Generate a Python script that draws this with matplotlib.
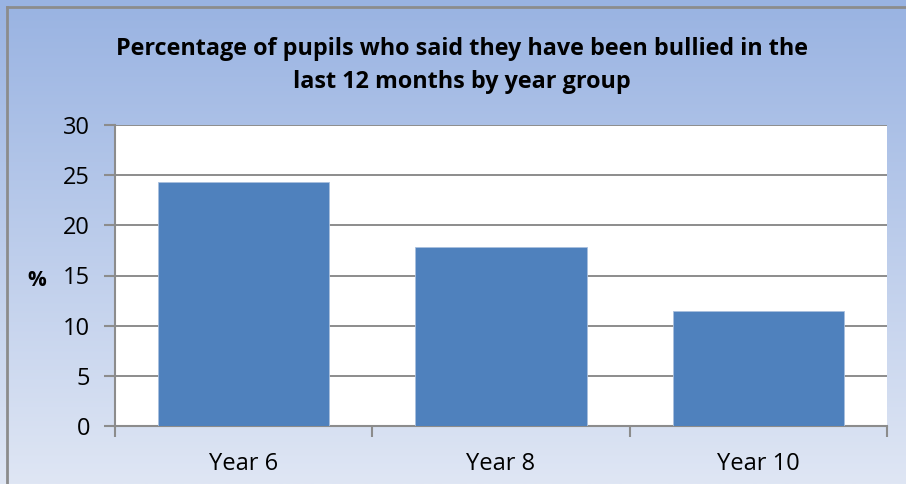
import matplotlib
matplotlib.use("Agg")
import matplotlib.pyplot as plt
import numpy as np
from matplotlib.lines import Line2D

categories = ["Year 6", "Year 8", "Year 10"]
values = [24.3, 17.8, 11.5]
yticks = [0, 5, 10, 15, 20, 25, 30]
title = "Percentage of pupils who said they have been bullied in the\nlast 12 months by year group"

W, H = 906, 484
fig = plt.figure(figsize=(W / 100, H / 100), dpi=100)

# gradient background
bg = fig.add_axes([0, 0, 1, 1], zorder=0)
top = np.array([0x99, 0xb3, 0xe2]) / 255
bot = np.array([0xdf, 0xe6, 0xf4]) / 255
t = np.linspace(0, 1, 256)[:, None]
grad = top[None, :] * (1 - t) + bot[None, :] * t
bg.imshow(grad[:, None, :], aspect="auto", extent=[0, 1, 0, 1], origin="upper")
bg.set_xlim(0, 1)
bg.set_ylim(0, 1)
bg.axis("off")
# border lines (left and top)
fig.add_artist(Line2D([7 / W, 7 / W], [0, 1 - 7 / H], color="#8c8c8c", lw=2, transform=fig.transFigure, zorder=1))
fig.add_artist(Line2D([7 / W, 1], [1 - 7 / H, 1 - 7 / H], color="#8c8c8c", lw=2, transform=fig.transFigure, zorder=1))

font = "Open Sans"
ax = fig.add_axes([115 / W, (H - 426) / H, 772 / W, 301 / H], zorder=2)
ax.set_facecolor("white")
x = np.arange(len(categories))
ax.bar(x, values, width=0.667, color="#4f81bd", edgecolor="#a9c0de", linewidth=0.6, zorder=3)
ax.set_xlim(-0.5, len(categories) - 0.5)
ax.set_ylim(0, 30)
ax.set_yticks(yticks)
ax.set_yticklabels([str(v) for v in yticks], fontsize=17, family=font)
ax.grid(axis="y", color="#8c8c8c", linewidth=1.4, zorder=1)
ax.set_axisbelow(True)
ax.set_xticks(x)
ax.set_xticklabels(categories, fontsize=17, family=font)
ax.tick_params(axis="x", length=0, pad=19)
ax.set_xticks(np.arange(len(categories) + 1) - 0.5, minor=True)
ax.tick_params(axis="x", which="minor", length=8, width=1.5, color="#8c8c8c", direction="out")
ax.tick_params(axis="y", length=8, width=1.5, color="#8c8c8c", pad=10)
for s in ["top", "right"]:
    ax.spines[s].set_visible(False)
for s in ["left", "bottom"]:
    ax.spines[s].set_color("#8c8c8c")
    ax.spines[s].set_linewidth(1.5)

fig.text(37 / W, 1 - 280 / H, "%", fontsize=15, fontweight="bold", family=font, ha="center", va="center")
fig.text(462 / W, 1 - 65.5 / H, title, fontsize=16.8, fontweight="bold", family=font, ha="center", va="center", linespacing=1.5)

fig.savefig("out.png", dpi=100)
